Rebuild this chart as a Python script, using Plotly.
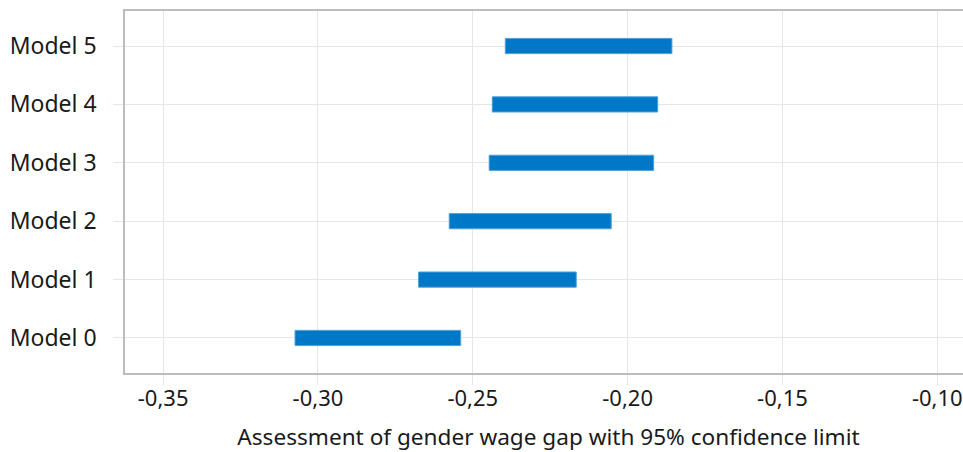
import plotly.graph_objects as go

models = ["Model 0", "Model 1", "Model 2", "Model 3", "Model 4", "Model 5"]
lower = [-0.3074, -0.2675, -0.2576, -0.2447, -0.2437, -0.2395]
upper = [-0.2539, -0.2166, -0.2053, -0.1916, -0.1903, -0.1857]
x_ticks = [-0.35, -0.30, -0.25, -0.20, -0.15, -0.10]
x_ticklabels = ["-0,35", "-0,30", "-0,25", "-0,20", "-0,15", "-0,10"]
x_title = "Assessment of gender wage gap with 95% confidence limit"

widths = [u - l for l, u in zip(lower, upper)]

fig = go.Figure(
    go.Bar(
        y=models,
        x=widths,
        base=lower,
        orientation="h",
        width=0.26,
        marker=dict(color="#0078C8", line=dict(color="#4d9fd9", width=1)),
        hoverinfo="skip",
    )
)

font_family = "Noto Sans, Open Sans, sans-serif"

# plot area continues past the right edge of the window, as in the reference
fig.update_layout(
    width=972,
    height=452,
    margin=dict(l=125, r=0, t=11, b=79),
    paper_bgcolor="white",
    plot_bgcolor="white",
    showlegend=False,
    font=dict(family=font_family, size=21, color="#1a1a1a"),
    xaxis=dict(
        range=[-0.3623, -0.0888],
        tickvals=x_ticks,
        ticktext=x_ticklabels,
        automargin=False,
        showgrid=True,
        gridcolor="#e6e6e6",
        gridwidth=1,
        zeroline=False,
        showline=True,
        linecolor="#bdbdbd",
        linewidth=1.5,
        mirror=True,
        ticks="outside",
        ticklen=10,
        tickcolor="#e6e6e6",
        tickfont=dict(size=22),
        ticklabelstandoff=-5,
        title=dict(text=x_title, font=dict(size=22.6), standoff=18),
    ),
    yaxis=dict(
        range=[-0.6, 5.6],
        automargin=False,
        showgrid=True,
        gridcolor="#e6e6e6",
        gridwidth=1,
        zeroline=False,
        showline=True,
        mirror=False,
        linecolor="#bdbdbd",
        linewidth=1.5,
        ticks="outside",
        ticklen=10,
        tickcolor="#e6e6e6",
        tickfont=dict(size=23),
        ticklabelstandoff=12,
    ),
)

fig.write_html(
    "out.html",
    config={"displayModeBar": False},
    post_script="document.body.style.margin='0';document.body.style.overflow='hidden';document.documentElement.style.overflow='hidden';",
)
